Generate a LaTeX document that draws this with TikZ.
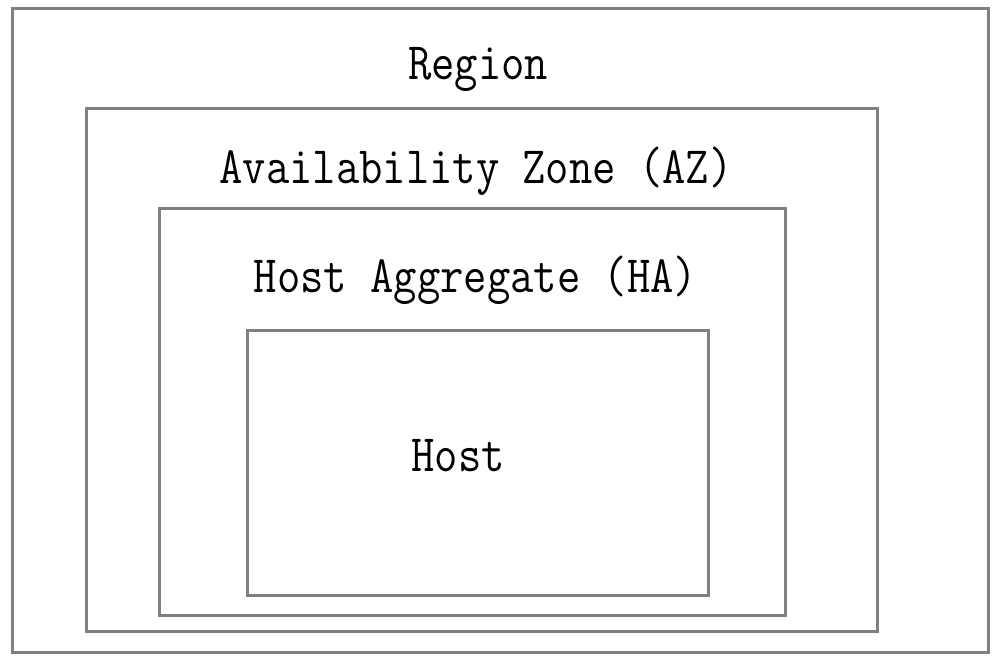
\documentclass[tikz,border=0pt]{standalone}
\begin{document}
\begin{tikzpicture}[x=1pt,y=-1pt,
  box/.style={draw=boxgray, line width=3pt, rectangle, inner sep=0pt, fill=none},
  lbl/.style={anchor=base, inner sep=0pt, font=\fontsize{45.3}{50}\selectfont\ttfamily}]
\definecolor{boxgray}{RGB}{128,128,128}
\useasboundingbox[fill=white] (0,0) rectangle (1002,658);
\node[box, minimum width=976pt, minimum height=643pt] (region) at (500,330.5) {};
\node[box, minimum width=791pt, minimum height=522pt] (az) at (481.5,370) {};
\node[box, minimum width=626pt, minimum height=406pt] (ha) at (472,412) {};
\node[box, minimum width=461pt, minimum height=265pt] (host) at (477.5,462.5) {};
\node[lbl] (tregion) at (478,80) {\scalebox{1}[1.16]{Region}};
\node[lbl] (taz) at (476,183) {\scalebox{1}[1.16]{Availability Zone (AZ)}};
\node[lbl] (tha) at (475.5,292) {\scalebox{1}[1.16]{Host Aggregate (HA)}};
\node[lbl] (thost) at (458,471) {\scalebox{1}[1.16]{Host}};
\end{tikzpicture}
\end{document}
